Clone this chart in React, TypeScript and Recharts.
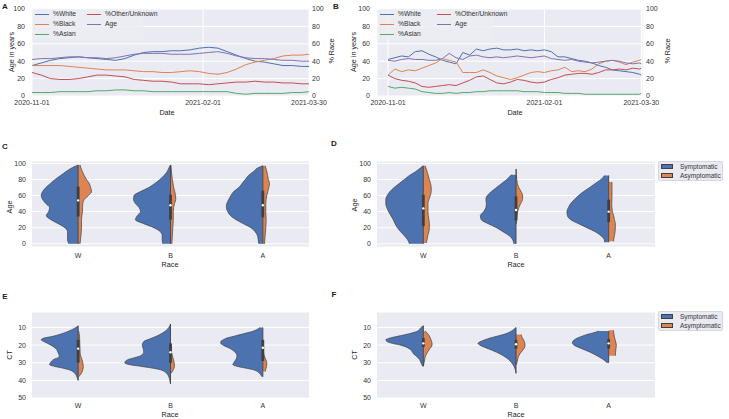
import { useMemo } from 'react';
import {
  LineChart,
  Line,
  ComposedChart,
  Area,
  XAxis,
  YAxis,
  CartesianGrid,
  ReferenceLine,
  ReferenceDot,
} from 'recharts';

// ---- line panels (A, B): rolling percentages per day since 2020-11-01 ----
const DATE_TICKS = [0, 92, 149];
const DATE_LABELS = ['2020-11-01', '2021-02-01', '2021-03-30'];
const PCT_TICKS = [0, 20, 40, 60, 80, 100];

const DAYS_A = [0, 5, 10, 15, 20, 25, 30, 35, 40, 45, 50, 55, 60, 65, 70, 75, 80, 85, 90, 95, 100, 105, 110, 115, 120, 125, 130, 135, 140, 145, 149];
const A_WHITE = [35, 38, 41, 43, 44, 45, 44, 43, 42, 41, 43, 47, 50, 51, 51, 52, 52, 53, 55, 56, 55, 51, 47, 43, 40, 39, 37, 35, 35, 34, 34];
const A_BLACK = [35, 35, 35, 35, 34, 33, 32, 31, 30, 30, 30, 29, 28, 28, 27, 27, 28, 29, 28, 26, 25, 27, 31, 36, 39, 41, 43, 46, 47, 47, 48];
const A_ASIAN = [4, 4, 4, 5, 5, 5, 5, 6, 6, 7, 7, 6, 6, 5, 5, 5, 5, 5, 5, 5, 5, 5, 3, 2, 3, 3, 3, 3, 4, 4, 5];
const A_OTHER = [27, 24, 20, 19, 19, 20, 22, 24, 24, 23, 22, 19, 18, 17, 17, 16, 14, 14, 14, 13, 14, 15, 16, 16, 17, 16, 16, 15, 15, 14, 14];
const A_AGE = [42, 43, 43, 44, 45, 45, 44, 44, 43, 44, 46, 48, 49, 49, 49, 48, 48, 48, 49, 50, 51, 49, 46, 44, 43, 43, 42, 41, 41, 40, 40];

const DAYS_B = [0, 4, 8, 12, 16, 20, 24, 28, 32, 36, 40, 44, 48, 52, 56, 60, 64, 68, 72, 76, 80, 84, 88, 92, 96, 100, 104, 108, 112, 116, 120, 124, 128, 132, 136, 140, 144, 148, 149];
const B_WHITE = [42, 44, 46, 45, 51, 52, 48, 45, 41, 39, 37, 50, 47, 54, 52, 54, 55, 53, 53, 54, 52, 53, 52, 53, 51, 45, 45, 43, 41, 40, 38, 35, 33, 30, 29, 28, 27, 25, 24];
const B_BLACK = [24, 31, 28, 30, 29, 32, 35, 38, 43, 41, 39, 27, 27, 27, 30, 27, 23, 21, 19, 21, 24, 27, 28, 27, 29, 30, 33, 28, 29, 28, 31, 37, 40, 41, 39, 36, 39, 41, 42];
const B_ASIAN = [11, 9, 10, 9, 8, 5, 4, 3, 3, 4, 3, 4, 4, 5, 5, 6, 6, 6, 6, 6, 5, 5, 5, 4, 4, 4, 3, 3, 3, 2, 2, 2, 2, 2, 2, 2, 2, 2, 3];
const B_OTHER = [24, 20, 18, 17, 15, 11, 10, 11, 12, 13, 12, 15, 18, 22, 23, 19, 15, 14, 16, 19, 18, 16, 15, 16, 19, 21, 24, 25, 26, 26, 25, 27, 30, 30, 31, 30, 32, 31, 32];
const B_AGE = [41, 40, 42, 43, 42, 42, 41, 41, 43, 49, 44, 42, 46, 47, 45, 44, 45, 44, 45, 46, 45, 44, 45, 46, 43, 42, 41, 42, 40, 39, 38, 39, 40, 41, 40, 38, 37, 38, 37];

// ---- violin panels: [level, half width in category units] ----
type Level = [number, number];
const RACES = ['W', 'B', 'A'];
const AGE_TICKS = [0, 20, 40, 60, 80, 100];
const CT_TICKS = [10, 20, 30, 40, 50];

const C_W_SYM: Level[] = [[0, 0.1], [5, 0.115], [10, 0.115], [15, 0.115], [20, 0.145], [25, 0.215], [30, 0.295], [35, 0.345], [40, 0.32], [45, 0.31], [50, 0.35], [55, 0.385], [60, 0.4], [65, 0.385], [70, 0.35], [75, 0.3], [80, 0.25], [85, 0.19], [90, 0.13], [95, 0.06], [98, 0]];
const C_W_ASYM: Level[] = [[0, 0.02], [10, 0.03], [20, 0.036], [30, 0.036], [35, 0.04], [40, 0.047], [45, 0.047], [50, 0.05], [55, 0.065], [60, 0.11], [65, 0.145], [70, 0.135], [75, 0.12], [80, 0.09], [90, 0.045], [98, 0.02]];
const C_B_SYM: Level[] = [[0, 0.083], [5, 0.09], [10, 0.09], [15, 0.11], [20, 0.18], [25, 0.29], [30, 0.38], [35, 0.36], [40, 0.325], [45, 0.34], [50, 0.38], [55, 0.4], [60, 0.395], [65, 0.325], [70, 0.235], [75, 0.17], [80, 0.115], [85, 0.07], [90, 0.035], [95, 0.015], [98, 0]];
const C_B_ASYM: Level[] = [[0, 0.015], [10, 0.02], [20, 0.025], [30, 0.03], [40, 0.03], [50, 0.043], [55, 0.057], [60, 0.055], [70, 0.035], [80, 0.02], [98, 0.005]];
const C_A_SYM: Level[] = [[0, 0.043], [5, 0.05], [10, 0.058], [15, 0.083], [20, 0.13], [25, 0.21], [30, 0.29], [35, 0.35], [40, 0.38], [45, 0.395], [50, 0.39], [55, 0.37], [60, 0.345], [65, 0.315], [70, 0.26], [75, 0.225], [80, 0.19], [85, 0.155], [90, 0.1], [95, 0.045], [97, 0]];
const C_A_ASYM: Level[] = [[0, 0.018], [10, 0.025], [20, 0.032], [30, 0.036], [40, 0.032], [50, 0.032], [60, 0.043], [70, 0.065], [75, 0.072], [80, 0.06], [90, 0.043], [97, 0.025]];
// min, q1, median, q3, max
const C_BOX = [[0, 34, 54, 71, 98], [0, 30, 48, 61, 98], [0, 33, 48, 66, 97]];

const D_W_SYM: Level[] = [[0, 0.15], [5, 0.17], [10, 0.205], [15, 0.245], [20, 0.28], [25, 0.305], [30, 0.325], [35, 0.35], [40, 0.375], [45, 0.395], [50, 0.405], [55, 0.405], [60, 0.39], [65, 0.36], [70, 0.315], [75, 0.26], [80, 0.205], [85, 0.15], [90, 0.08], [95, 0.025], [97, 0]];
const D_W_ASYM: Level[] = [[1, 0.03], [5, 0.04], [10, 0.047], [15, 0.06], [20, 0.065], [25, 0.065], [30, 0.06], [40, 0.05], [50, 0.05], [55, 0.06], [60, 0.075], [65, 0.085], [70, 0.085], [80, 0.065], [90, 0.04], [97, 0.02]];
const D_B_SYM: Level[] = [[0, 0.022], [5, 0.036], [10, 0.072], [15, 0.14], [20, 0.21], [25, 0.3], [30, 0.375], [35, 0.385], [40, 0.35], [45, 0.325], [50, 0.32], [55, 0.325], [60, 0.31], [65, 0.265], [70, 0.21], [75, 0.155], [80, 0.1], [85, 0.058], [86, 0.05]];
const D_B_ASYM: Level[] = [[25, 0.004], [30, 0.007], [35, 0.011], [40, 0.018], [45, 0.03], [50, 0.05], [55, 0.07], [60, 0.072], [65, 0.055], [70, 0.03], [75, 0.015], [80, 0.008], [93, 0.002]];
const D_A_SYM: Level[] = [[2, 0.043], [5, 0.047], [10, 0.083], [15, 0.145], [20, 0.235], [25, 0.325], [30, 0.41], [35, 0.445], [40, 0.45], [45, 0.435], [50, 0.41], [55, 0.37], [60, 0.325], [65, 0.27], [70, 0.205], [75, 0.145], [80, 0.083], [85, 0.045]];
const D_A_ASYM: Level[] = [[3, 0.054], [5, 0.054], [10, 0.062], [15, 0.069], [20, 0.072], [25, 0.072], [30, 0.062], [35, 0.054], [40, 0.04], [50, 0.033], [60, 0.036], [70, 0.036], [77, 0.035]];
const D_BOX = [[0, 22, 44, 61, 97], [0, 29, 42, 59, 93], [2, 27, 40, 55, 85]];

const E_W_SYM: Level[] = [[9, 0], [10, 0.025], [12, 0.1], [14, 0.205], [15, 0.275], [16, 0.37], [17, 0.4], [18, 0.37], [20, 0.295], [22, 0.24], [24, 0.22], [26, 0.205], [27, 0.215], [28, 0.26], [30, 0.3], [31, 0.31], [32, 0.26], [33, 0.17], [34, 0.097], [36, 0.036], [38, 0.014], [40, 0]];
const E_W_ASYM: Level[] = [[12, 0.005], [15, 0.015], [20, 0.018], [22, 0.02], [25, 0.022], [28, 0.04], [30, 0.05], [32, 0.055], [34, 0.05], [36, 0.035], [37, 0.02], [38, 0.005]];
const E_B_SYM: Level[] = [[8, 0], [10, 0.018], [12, 0.054], [14, 0.115], [16, 0.2], [18, 0.29], [20, 0.305], [22, 0.295], [24, 0.29], [26, 0.325], [27, 0.38], [28, 0.45], [29, 0.485], [30, 0.495], [31, 0.45], [32, 0.325], [33, 0.2], [34, 0.108], [36, 0.043], [38, 0.018], [40, 0.007], [42, 0]];
const E_B_ASYM: Level[] = [[20, 0.005], [24, 0.012], [27, 0.025], [30, 0.04], [32, 0.043], [34, 0.03], [35, 0.02], [36, 0.005]];
const E_A_SYM: Level[] = [[10, 0.03], [12, 0.1], [14, 0.245], [15, 0.315], [16, 0.39], [17, 0.43], [18, 0.455], [19, 0.455], [20, 0.43], [22, 0.35], [24, 0.3], [26, 0.28], [28, 0.29], [30, 0.315], [31, 0.325], [32, 0.28], [33, 0.19], [34, 0.1], [36, 0.036], [37, 0.02], [38, 0.007]];
const E_A_ASYM: Level[] = [[23, 0.005], [26, 0.015], [28, 0.03], [30, 0.043], [32, 0.04], [34, 0.03], [35, 0.025]];
const E_BOX = [[9, 17, 22, 30, 40], [8, 19, 24, 30, 42], [10, 17, 21.5, 29, 38]];

const F_W_SYM: Level[] = [[9, 0], [10, 0.025], [12, 0.06], [13, 0.115], [14, 0.19], [15, 0.28], [16, 0.36], [17, 0.405], [18, 0.39], [19, 0.335], [20, 0.245], [22, 0.152], [24, 0.116], [25, 0.105], [26, 0.08], [27, 0.062], [28, 0.043], [30, 0.025], [32, 0.007]];
const F_W_ASYM: Level[] = [[12, 0.02], [13, 0.04], [14, 0.055], [16, 0.075], [18, 0.09], [19, 0.094], [20, 0.094], [21, 0.085], [22, 0.07], [24, 0.045], [26, 0.025], [28, 0.015], [30, 0.008], [32, 0]];
const F_B_SYM: Level[] = [[10, 0], [11, 0.022], [12, 0.047], [14, 0.138], [15, 0.21], [16, 0.28], [17, 0.337], [18, 0.384], [19, 0.41], [20, 0.39], [21, 0.348], [22, 0.3], [24, 0.21], [26, 0.138], [28, 0.083], [30, 0.047], [32, 0.022], [34, 0.007], [36, 0]];
const F_B_ASYM: Level[] = [[14, 0.055], [15, 0.06], [16, 0.07], [18, 0.09], [20, 0.098], [22, 0.085], [24, 0.055], [26, 0.03], [28, 0.018], [30, 0.01], [31, 0.005]];
const F_A_SYM: Level[] = [[12, 0.108], [13, 0.163], [14, 0.235], [15, 0.29], [16, 0.337], [17, 0.37], [18, 0.388], [19, 0.391], [20, 0.373], [22, 0.29], [24, 0.2], [26, 0.127], [28, 0.062], [29, 0.036], [30, 0.018]];
const F_A_ASYM: Level[] = [[11.5, 0.05], [13, 0.055], [15, 0.06], [17, 0.07], [19, 0.08], [20, 0.083], [22, 0.078], [24, 0.075], [26, 0.072]];
const F_BOX = [[9, 16, 19, 21, 32], [10, 17, 19.5, 22, 36], [12, 16.5, 19, 22, 30]];

const FONT = '"Liberation Sans", Arial, Helvetica, sans-serif';
const BG = '#EAEAF2';
const EDGE = '#3f3f3f';
const BLUE = '#4C72B0';
const ORANGE = '#DD8452';
const GREEN = '#55A868';
const RED = '#C44E52';
const PURPLE = '#8172B3';
const TICK = { fontSize: 7, fill: '#333', fontFamily: FONT };

const RACE_SERIES = [
  { key: 'white', name: '%White', color: BLUE, axis: 'right' },
  { key: 'black', name: '%Black', color: ORANGE, axis: 'right' },
  { key: 'asian', name: '%Asian', color: GREEN, axis: 'right' },
  { key: 'other', name: '%Other/Unknown', color: RED, axis: 'right' },
  { key: 'age', name: 'Age', color: PURPLE, axis: 'left' },
];

interface Margin { top: number; right: number; bottom: number; left: number }

function RacePanel({ days, values, xDomain, width, margin }: {
  days: number[]; values: number[][]; xDomain: number[]; width: number; margin: Margin;
}) {
  const rows = useMemo(
    () => days.map((day, i) => {
      const row: Record<string, number> = { day };
      RACE_SERIES.forEach((s, k) => { row[s.key] = values[k][i]; });
      return row;
    }),
    [days, values],
  );
  return (
    <LineChart width={width} height={112} data={rows} margin={margin}>
      <CartesianGrid yAxisId="left" fill={BG} stroke="#fff" strokeWidth={1} />
      <XAxis
        dataKey="day" type="number" domain={xDomain} allowDataOverflow ticks={DATE_TICKS} interval={0}
        tickFormatter={(d) => DATE_LABELS[DATE_TICKS.indexOf(d)]}
        axisLine={false} tickLine={false} tickSize={0} tickMargin={4} height={16} tick={TICK}
      />
      <YAxis yAxisId="left" domain={[0, 100]} ticks={PCT_TICKS} interval={0} allowDataOverflow
        axisLine={false} tickLine={false} tickSize={0} tickMargin={7} width={22} tick={TICK} />
      <YAxis yAxisId="right" orientation="right" domain={[0, 100]} ticks={PCT_TICKS} interval={0} allowDataOverflow
        axisLine={false} tickLine={false} tickSize={0} tickMargin={3} width={22} tick={TICK} />
      {RACE_SERIES.map((s) => (
        <Line key={s.key} yAxisId={s.axis} dataKey={s.key} name={s.name} type="linear" stroke={s.color}
          strokeWidth={1} dot={false} activeDot={false} isAnimationActive={false} />
      ))}
    </LineChart>
  );
}

interface Violin { sym: Level[]; asym: Level[]; box: number[] }

function violinRows(violins: Violin[]) {
  const levels = Array.from(
    new Set(violins.flatMap((v) => [...v.sym, ...v.asym].map((p) => p[0]))),
  ).sort((a, b) => a - b);
  return levels.map((y) => {
    const row: Record<string, number> = { y };
    violins.forEach((v, i) => {
      const s = v.sym.find((p) => p[0] === y);
      if (s) row[`sym${i}`] = i - s[1];
      const a = v.asym.find((p) => p[0] === y);
      if (a) row[`asym${i}`] = i + a[1];
    });
    return row;
  });
}

function ViolinPanel({ violins, domain, ticks, reversed, tickMargin, width, height, margin }: {
  violins: Violin[]; domain: number[]; ticks: number[]; reversed: boolean; tickMargin: number;
  width: number; height: number; margin: Margin;
}) {
  const rows = useMemo(() => violinRows(violins), [violins]);
  return (
    <ComposedChart layout="vertical" width={width} height={height} data={rows} margin={margin}>
      <CartesianGrid fill={BG} stroke="#fff" strokeWidth={1} vertical={false} />
      <XAxis type="number" domain={[-0.5, 2.5]} ticks={[0, 1, 2]} interval={0} allowDataOverflow
        tickFormatter={(v) => RACES[v]} axisLine={false} tickLine={false} tickSize={0}
        tickMargin={tickMargin} height={15} tick={TICK} />
      <YAxis type="number" dataKey="y" domain={domain} ticks={ticks} interval={0} allowDataOverflow
        reversed={reversed} axisLine={false} tickLine={false} tickSize={0} tickMargin={6} width={22} tick={TICK} />
      {violins.map((_, i) => (
        <Area key={`s${i}`} dataKey={`sym${i}`} name="Symptomatic" baseValue={i} type="monotone" connectNulls
          fill={BLUE} fillOpacity={1} stroke={EDGE} strokeWidth={0.7} dot={false} activeDot={false}
          isAnimationActive={false} />
      ))}
      {violins.map((_, i) => (
        <Area key={`a${i}`} dataKey={`asym${i}`} name="Asymptomatic" baseValue={i} type="monotone" connectNulls
          fill={ORANGE} fillOpacity={1} stroke={EDGE} strokeWidth={0.7} dot={false} activeDot={false}
          isAnimationActive={false} />
      ))}
      {violins.map((v, i) => (
        <ReferenceLine key={`w${i}`} segment={[{ x: i, y: v.box[0] }, { x: i, y: v.box[4] }]}
          stroke={EDGE} strokeWidth={0.9} />
      ))}
      {violins.map((v, i) => (
        <ReferenceLine key={`q${i}`} segment={[{ x: i, y: v.box[1] }, { x: i, y: v.box[3] }]}
          stroke={EDGE} strokeWidth={2.8} />
      ))}
      {violins.map((v, i) => (
        <ReferenceDot key={`m${i}`} x={i} y={v.box[2]} r={1.2} fill="#fff" stroke="none" />
      ))}
    </ComposedChart>
  );
}

function Text({ x, y, children, size = 7.2, rotate = false, bold = false }: {
  x: number; y: number; children: string; size?: number; rotate?: boolean; bold?: boolean;
}) {
  return (
    <div style={{
      position: 'absolute', left: x, top: y, whiteSpace: 'nowrap', fontSize: size, lineHeight: 1,
      color: '#222', fontWeight: bold ? 700 : 400,
      transform: `translate(-50%, -50%)${rotate ? ' rotate(-90deg)' : ''}`,
    }}>
      {children}
    </div>
  );
}

function LineLegend({ x, y, col2 }: { x: number; y: number; col2: number }) {
  const rowY = [5, 14.5, 24.5];
  return (
    <div style={{ position: 'absolute', left: x, top: y, width: col2 + 56, height: 30, background: 'rgba(236,236,243,0.85)', borderRadius: 2 }}>
      {RACE_SERIES.map((s, k) => {
        const cx = k < 3 ? 2 : col2;
        const cy = rowY[k < 3 ? k : k - 3];
        return (
          <div key={s.key}>
            <div style={{ position: 'absolute', left: cx, top: cy, width: 14, height: 1.2, background: s.color }} />
            <div style={{ position: 'absolute', left: cx + 18, top: cy - 4, fontSize: 6.7, lineHeight: '8px', color: '#333', whiteSpace: 'nowrap' }}>{s.name}</div>
          </div>
        );
      })}
    </div>
  );
}

function PatchLegend({ x, y }: { x: number; y: number }) {
  const items = [{ name: 'Symptomatic', color: BLUE }, { name: 'Asymptomatic', color: ORANGE }];
  return (
    <div style={{ position: 'absolute', left: x, top: y, width: 65, height: 20, background: BG, border: '0.5px solid #d6d6de', boxSizing: 'border-box', borderRadius: 2 }}>
      {items.map((it, k) => (
        <div key={it.name}>
          <div style={{ position: 'absolute', left: 2, top: 2 + k * 9, width: 12, height: 5, background: it.color, border: `0.5px solid ${EDGE}`, boxSizing: 'border-box' }} />
          <div style={{ position: 'absolute', left: 21, top: 0.5 + k * 9, fontSize: 6.5, lineHeight: '8px', color: '#333', whiteSpace: 'nowrap' }}>{it.name}</div>
        </div>
      ))}
    </div>
  );
}

const PANEL_C: Violin[] = [
  { sym: C_W_SYM, asym: C_W_ASYM, box: C_BOX[0] },
  { sym: C_B_SYM, asym: C_B_ASYM, box: C_BOX[1] },
  { sym: C_A_SYM, asym: C_A_ASYM, box: C_BOX[2] },
];
const PANEL_D: Violin[] = [
  { sym: D_W_SYM, asym: D_W_ASYM, box: D_BOX[0] },
  { sym: D_B_SYM, asym: D_B_ASYM, box: D_BOX[1] },
  { sym: D_A_SYM, asym: D_A_ASYM, box: D_BOX[2] },
];
const PANEL_E: Violin[] = [
  { sym: E_W_SYM, asym: E_W_ASYM, box: E_BOX[0] },
  { sym: E_B_SYM, asym: E_B_ASYM, box: E_BOX[1] },
  { sym: E_A_SYM, asym: E_A_ASYM, box: E_BOX[2] },
];
const PANEL_F: Violin[] = [
  { sym: F_W_SYM, asym: F_W_ASYM, box: F_BOX[0] },
  { sym: F_B_SYM, asym: F_B_ASYM, box: F_BOX[1] },
  { sym: F_A_SYM, asym: F_A_ASYM, box: F_BOX[2] },
];

const A_VALUES = [A_WHITE, A_BLACK, A_ASIAN, A_OTHER, A_AGE];
const B_VALUES = [B_WHITE, B_BLACK, B_ASIAN, B_OTHER, B_AGE];

const at = (left: number, top: number) => ({ position: 'absolute' as const, left, top });

export default function App() {
  return (
    <div style={{ position: 'absolute', left: 0, top: 0, width: 729, height: 419, overflow: 'hidden', background: '#fff', fontFamily: FONT }}>
      <div style={at(0, 0)}>
        <RacePanel days={DAYS_A} values={A_VALUES} xDomain={[0, 149]} width={345}
          margin={{ top: 9, right: 14, bottom: 0, left: 10 }} />
      </div>
      <div style={at(345, 0)}>
        <RacePanel days={DAYS_B} values={B_VALUES} xDomain={[-6.5, 150]} width={384}
          margin={{ top: 9, right: 64, bottom: 0, left: 10 }} />
      </div>
      <div style={at(0, 150)}>
        <ViolinPanel violins={PANEL_C} domain={[-4, 103]} ticks={AGE_TICKS} reversed tickMargin={6}
          width={345} height={112} margin={{ top: 11, right: 36, bottom: 0, left: 10 }} />
      </div>
      <div style={at(345, 150)}>
        <ViolinPanel violins={PANEL_D} domain={[-4, 103]} ticks={AGE_TICKS} reversed tickMargin={6}
          width={384} height={112} margin={{ top: 11, right: 74, bottom: 0, left: 10 }} />
      </div>
      <div style={at(0, 300)}>
        <ViolinPanel violins={PANEL_E} domain={[1.2, 50]} ticks={CT_TICKS} reversed={false} tickMargin={5}
          width={345} height={113} margin={{ top: 12, right: 36, bottom: 0, left: 10 }} />
      </div>
      <div style={at(345, 300)}>
        <ViolinPanel violins={PANEL_F} domain={[1.2, 50]} ticks={CT_TICKS} reversed={false} tickMargin={5}
          width={384} height={113} margin={{ top: 12, right: 74, bottom: 0, left: 10 }} />
      </div>

      <LineLegend x={33} y={9} col2={54} />
      <LineLegend x={378} y={9} col2={59} />
      <PatchLegend x={658} y={161} />
      <PatchLegend x={658} y={311} />

      <Text x={5} y={7} size={8} bold>A</Text>
      <Text x={336} y={7} size={8} bold>B</Text>
      <Text x={5} y={147} size={8} bold>C</Text>
      <Text x={334} y={144} size={8} bold>D</Text>
      <Text x={5} y={297} size={8} bold>E</Text>
      <Text x={334} y={295} size={8} bold>F</Text>

      <Text x={12} y={52} rotate>Age in years</Text>
      <Text x={332} y={51} rotate>% Race</Text>
      <Text x={167} y={113}>Date</Text>
      <Text x={354} y={52} rotate>Age in years</Text>
      <Text x={668} y={51} rotate>% Race</Text>
      <Text x={515} y={113}>Date</Text>

      <Text x={10} y={207} rotate>Age</Text>
      <Text x={170} y={265}>Race</Text>
      <Text x={355} y={205} rotate>Age</Text>
      <Text x={516} y={265}>Race</Text>

      <Text x={10} y={355} rotate>CT</Text>
      <Text x={170} y={415}>Race</Text>
      <Text x={355} y={355} rotate>CT</Text>
      <Text x={516} y={415}>Race</Text>
    </div>
  );
}
